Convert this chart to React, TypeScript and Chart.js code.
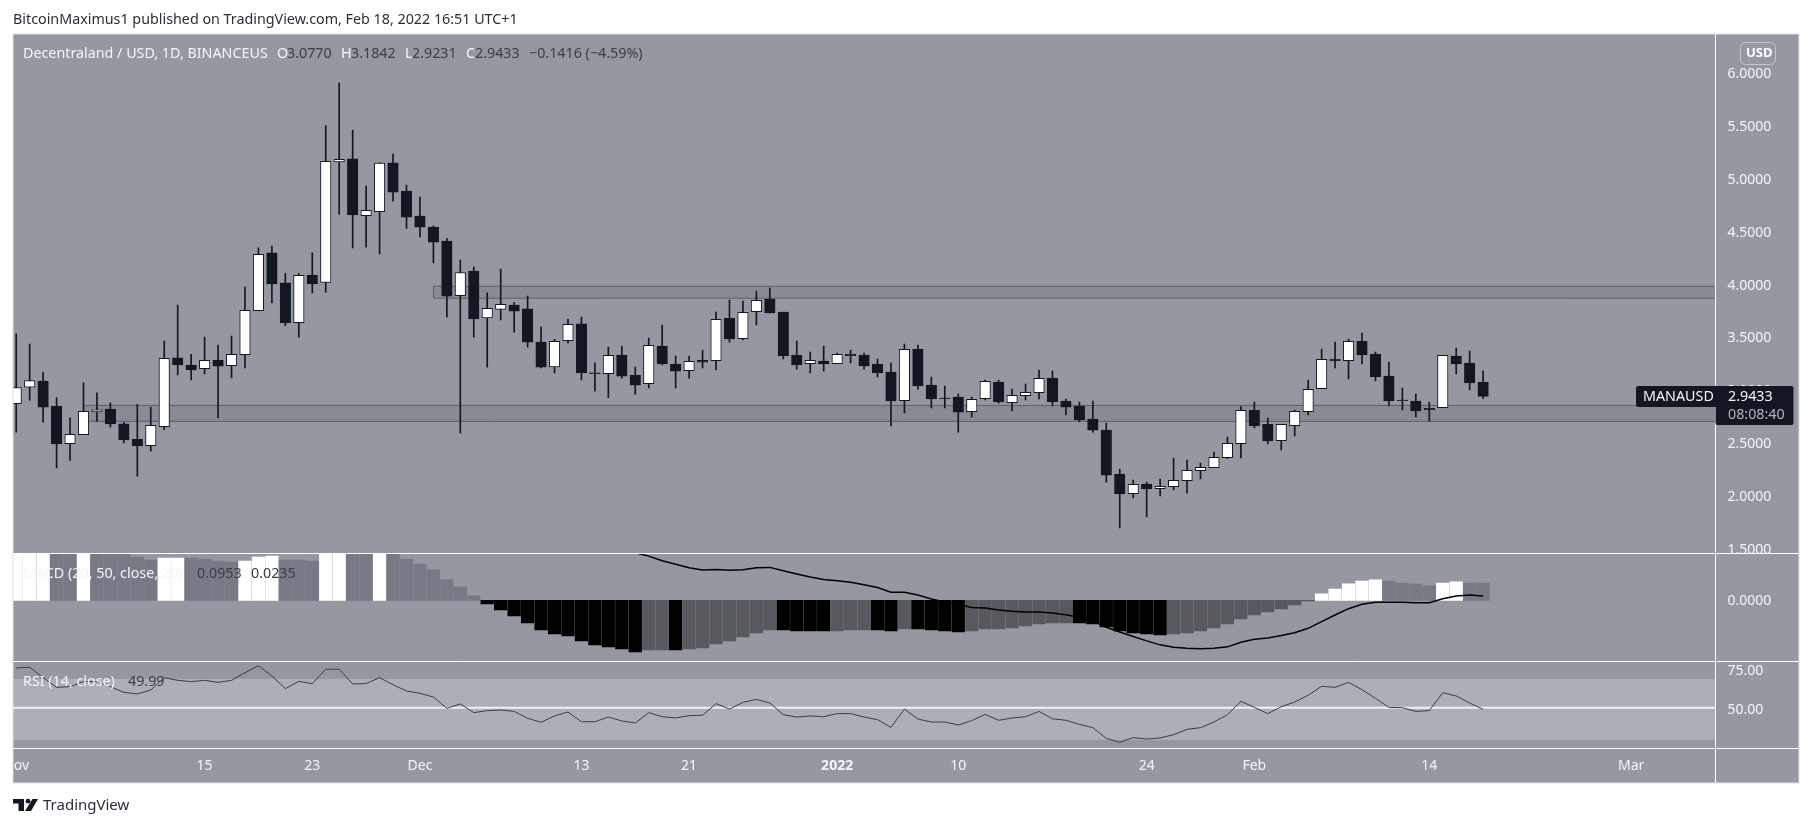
import { useEffect, useRef } from "react";
import { Chart, registerables } from "chart.js";

Chart.register(...registerables);

const W = 1813;
const H = 827;
const FONT = '"Noto Sans", sans-serif';
const PANE_BG = "#9598a1";

// daily candles, 1 Nov 2021 to 18 Feb 2022
const opens = [
  2.876, 3.03, 3.089, 2.852, 2.498, 2.582, 2.798, 2.825, 2.684, 2.539,
  2.478, 2.657, 3.308, 3.24, 3.206, 3.284, 3.233, 3.338, 3.753, 4.299,
  4.016, 3.641, 4.09, 4.019, 5.159, 5.186, 4.65, 4.687, 5.149, 4.883,
  4.647, 4.542, 4.41, 3.894, 4.127, 3.685, 3.766, 3.807, 3.77, 3.456,
  3.223, 3.469, 3.628, 3.166, 3.158, 3.335, 3.143, 3.064, 3.419, 3.25,
  3.187, 3.284, 3.281, 3.681, 3.489, 3.744, 3.863, 3.741, 3.335, 3.253,
  3.278, 3.253, 3.344, 3.335, 3.25, 3.174, 2.903, 3.391, 3.051, 2.928,
  2.938, 2.799, 2.922, 3.08, 2.884, 2.951, 2.979, 3.117, 2.9, 2.853,
  2.73, 2.626, 2.211, 2.025, 2.116, 2.072, 2.091, 2.148, 2.242, 2.271,
  2.365, 2.497, 2.812, 2.68, 2.526, 2.667, 2.8, 3.017, 3.294, 3.281,
  3.464, 3.344, 3.136, 2.91, 2.9, 2.831, 2.837, 3.325, 3.259, 3.077,
];
const closes = [
  3.028, 3.092, 2.842, 2.495, 2.586, 2.802, 2.818, 2.684, 2.532, 2.475,
  2.67, 3.304, 3.24, 3.193, 3.284, 3.23, 3.341, 3.756, 4.286, 4.006,
  3.638, 4.087, 4.006, 5.163, 5.183, 4.657, 4.701, 5.146, 4.873, 4.636,
  4.542, 4.4, 3.891, 4.114, 3.675, 3.776, 3.813, 3.749, 3.456, 3.22,
  3.463, 3.625, 3.166, 3.159, 3.331, 3.136, 3.051, 3.426, 3.25, 3.183,
  3.275, 3.268, 3.671, 3.486, 3.737, 3.851, 3.731, 3.325, 3.24, 3.284,
  3.25, 3.341, 3.328, 3.231, 3.165, 2.9, 3.388, 3.042, 2.919, 2.922,
  2.796, 2.916, 3.086, 2.891, 2.954, 2.982, 3.114, 2.891, 2.843, 2.721,
  2.626, 2.201, 2.022, 2.113, 2.069, 2.094, 2.151, 2.245, 2.274, 2.368,
  2.501, 2.812, 2.664, 2.523, 2.68, 2.803, 3.01, 3.294, 3.281, 3.464,
  3.335, 3.127, 2.9, 2.903, 2.806, 2.818, 3.332, 3.25, 3.07, 2.9433,
];
const highs = [
  3.534, 3.439, 3.172, 2.93, 2.741, 3.071, 2.977, 2.883, 2.7, 2.869,
  2.842, 3.466, 3.807, 3.341, 3.503, 3.429, 3.513, 3.975, 4.346, 4.363,
  4.107, 4.107, 4.299, 5.5, 5.905, 5.459, 4.93, 5.152, 5.233, 4.94,
  4.825, 4.555, 4.437, 4.232, 4.164, 3.921, 4.147, 3.83, 3.891, 3.598,
  3.483, 3.672, 3.692, 3.26, 3.41, 3.419, 3.221, 3.495, 3.618, 3.325,
  3.325, 3.382, 3.741, 3.854, 3.844, 3.939, 3.967, 3.741, 3.467, 3.363,
  3.419, 3.353, 3.382, 3.353, 3.297, 3.259, 3.438, 3.429, 3.127, 3.042,
  2.966, 2.938, 3.098, 3.098, 3.013, 3.061, 3.193, 3.183, 2.919, 2.891,
  2.9, 2.692, 2.258, 2.154, 2.135, 2.164, 2.362, 2.343, 2.315, 2.419,
  2.56, 2.847, 2.891, 2.74, 2.68, 2.815, 3.099, 3.391, 3.457, 3.486,
  3.542, 3.363, 3.269, 3.023, 2.966, 2.891, 3.332, 3.401, 3.372, 3.1842,
];
const lows = [
  2.606, 2.909, 2.7, 2.269, 2.336, 2.582, 2.707, 2.653, 2.505, 2.191,
  2.427, 2.63, 3.146, 3.099, 3.156, 2.741, 3.119, 3.213, 3.753, 3.827,
  3.611, 3.503, 3.921, 3.928, 4.663, 4.346, 4.353, 4.289, 4.788, 4.529,
  4.448, 4.205, 3.692, 2.599, 3.503, 3.22, 3.665, 3.55, 3.409, 3.213,
  3.166, 3.449, 3.099, 2.994, 2.932, 3.117, 2.966, 3.023, 3.24, 3.023,
  3.117, 3.212, 3.193, 3.457, 3.476, 3.618, 3.731, 3.297, 3.202, 3.165,
  3.183, 3.253, 3.259, 3.202, 3.127, 2.664, 2.787, 3.013, 2.834, 2.834,
  2.607, 2.749, 2.91, 2.881, 2.806, 2.91, 2.919, 2.853, 2.768, 2.702,
  2.607, 2.135, 1.701, 1.984, 1.805, 2.003, 2.06, 2.031, 2.164, 2.271,
  2.356, 2.362, 2.645, 2.494, 2.438, 2.57, 2.768, 3.017, 3.212, 3.108,
  3.25, 3.089, 2.853, 2.815, 2.749, 2.711, 2.837, 3.155, 3.004, 2.9231,
];

// MACD histogram; the first bars run off the top of the pane
const macdHist = [
  0.33, 0.31, 0.29, 0.27, 0.265, 0.27, 0.28, 0.275, 0.26, 0.238,
  0.221, 0.232, 0.232, 0.232, 0.227, 0.216, 0.21, 0.216, 0.238, 0.243,
  0.221, 0.221, 0.216, 0.27, 0.28, 0.275, 0.27, 0.265, 0.26, 0.227,
  0.199, 0.167, 0.112, 0.073, 0.024, -0.02, -0.053, -0.086, -0.124, -0.163,
  -0.185, -0.196, -0.223, -0.245, -0.256, -0.267, -0.284, -0.273, -0.273, -0.273,
  -0.267, -0.262, -0.24, -0.223, -0.201, -0.179, -0.163, -0.163, -0.168, -0.168,
  -0.168, -0.168, -0.163, -0.163, -0.163, -0.168, -0.157, -0.157, -0.163, -0.168,
  -0.174, -0.168, -0.157, -0.157, -0.152, -0.141, -0.13, -0.124, -0.124, -0.124,
  -0.13, -0.146, -0.168, -0.179, -0.185, -0.19, -0.185, -0.179, -0.168, -0.152,
  -0.13, -0.102, -0.081, -0.064, -0.048, -0.026, -0.004, 0.035, 0.062, 0.09,
  0.106, 0.112, 0.106, 0.095, 0.09, 0.079, 0.095, 0.101, 0.095, 0.0953,
];
// W rising above zero, G falling above zero, B falling below zero, D rising below zero
const macdHistKind =
  "WWWGGWGGGGGWWGGGGWWWGGGWWGGWGGGGGGG" +
  "BBBBBBBBBBBBDDBDDDDDDDBBBBDDDBBDBBBBDDDDDDDD" +
  "BBBBBBBDDDDDDDDDDDWWWWWGGGGWWGG";
const histColors: Record<string, string> = { W: "#ffffff", G: "#777a84", B: "#000000", D: "#58595f" };

const macdLine = [
  null, null, null, null, null, null, null, null, null, null,
  null, null, null, null, null, null, null, null, null, null,
  null, null, null, null, null, null, null, null, null, null,
  null, null, null, null, null, null, null, null, null, null,
  null, null, null, null, null, null, 0.262, 0.243, 0.218, 0.198,
  0.179, 0.167, 0.17, 0.165, 0.168, 0.179, 0.181, 0.163, 0.145, 0.128,
  0.115, 0.108, 0.099, 0.086, 0.07, 0.044, 0.044, 0.029, 0.007, -0.009,
  -0.022, -0.04, -0.042, -0.053, -0.06, -0.064, -0.064, -0.07, -0.079, -0.093,
  -0.113, -0.148, -0.174, -0.199, -0.223, -0.245, -0.258, -0.264, -0.267, -0.264,
  -0.256, -0.231, -0.214, -0.207, -0.194, -0.178, -0.154, -0.117, -0.081, -0.046,
  -0.022, -0.011, -0.011, -0.011, -0.013, -0.013, 0.009, 0.024, 0.029, 0.0235,
];

const rsi = [
  75.4, 75.9, 69.2, 63.0, 63.5, 66.7, 66.7, 63.5, 59.8, 58.8,
  61.3, 69.2, 67.5, 66.7, 67.5, 66.2, 67.5, 72.4, 76.9, 70.3,
  62.2, 66.9, 65.4, 74.6, 74.6, 65.2, 65.4, 69.2, 64.7, 60.7,
  59.2, 56.8, 49.6, 52.4, 46.8, 48.1, 48.5, 47.6, 43.2, 40.6,
  44.7, 47.2, 41.0, 41.0, 44.0, 41.5, 40.2, 46.8, 44.2, 43.4,
  44.9, 45.1, 52.6, 49.1, 53.4, 55.3, 53.0, 45.5, 44.0, 44.7,
  44.2, 46.2, 46.2, 44.0, 42.3, 37.4, 49.1, 42.7, 40.8, 40.8,
  38.9, 41.7, 45.7, 41.9, 43.4, 44.2, 47.6, 42.9, 41.9, 39.3,
  37.2, 30.3, 27.8, 30.8, 29.9, 30.6, 32.7, 36.1, 37.2, 40.8,
  45.5, 54.1, 50.2, 46.2, 50.6, 53.6, 57.9, 63.7, 63.0, 66.2,
  61.5, 56.0, 50.2, 50.0, 47.6, 48.1, 59.6, 57.5, 53.0, 48.9,
];

const dayTicks = [0, 14, 22, 30, 42, 50, 61, 70, 84, 92, 105, 120];
const dayLabels = ["Nov", "15", "23", "Dec", "13", "21", "2022", "10", "24", "Feb", "14", "Mar"];
const rsiTicks = [75, 50];

// hand drawn price zones: [low, high, first day]
const supportZone = [2.708, 2.859, 5];
const resistanceZone = [3.871, 3.984, 31];

const lastPrice = 2.9433;

const overlay = {
  id: "overlay",
  afterLayout(chart: any) {
    // tick labels sit a little lower than their values in the original
    const nudges: Record<string, number> = { yPrice: 1, yMacd: 0.5, yRsi: 2 };
    for (const id of Object.keys(nudges)) {
      for (const item of chart.scales[id].getLabelItems()) {
        item.options.translation[1] += nudges[id];
      }
    }
  },
  beforeDraw(chart: any) {
    const { ctx } = chart;
    ctx.save();
    ctx.fillStyle = "#ffffff";
    ctx.fillRect(0, 0, W, H);
    ctx.fillStyle = PANE_BG;
    ctx.fillRect(13, 34, 1786, 749);
    ctx.restore();
  },
  beforeDatasetsDraw(chart: any) {
    const { ctx, chartArea, scales } = chart;
    const { x, yPrice, yRsi } = scales;
    ctx.save();

    // rsi band and middle line
    ctx.fillStyle = "#acafb8";
    const bandTop = yRsi.getPixelForValue(68.4);
    ctx.fillRect(chartArea.left, bandTop, chartArea.right - chartArea.left, yRsi.getPixelForValue(29.3) - bandTop);
    ctx.strokeStyle = "#f2f2f4";
    ctx.lineWidth = 2;
    ctx.beginPath();
    ctx.moveTo(chartArea.left, yRsi.getPixelForValue(50));
    ctx.lineTo(chartArea.right, yRsi.getPixelForValue(50));
    ctx.stroke();

    // price zones
    for (const [low, high, first] of [supportZone, resistanceZone]) {
      const left = x.getPixelForValue(first);
      const top = yPrice.getPixelForValue(high);
      const bottom = yPrice.getPixelForValue(low);
      ctx.fillStyle = "#888b94";
      ctx.fillRect(left, top, chartArea.right - left, bottom - top);
      ctx.strokeStyle = "#5d606b";
      ctx.lineWidth = 1;
      ctx.beginPath();
      ctx.moveTo(chartArea.right, top);
      ctx.lineTo(left, top);
      ctx.lineTo(left, bottom);
      ctx.lineTo(chartArea.right, bottom);
      ctx.stroke();
    }
    ctx.restore();
  },
  afterDatasetsDraw(chart: any) {
    const { ctx, chartArea, scales } = chart;
    const { yPrice, yMacd, yRsi } = scales;
    const text = (s: string, px: number, py: number, color: string, font = `14.3px ${FONT}`) => {
      ctx.font = font;
      ctx.fillStyle = color;
      ctx.fillText(s, px, py);
    };
    ctx.save();
    ctx.textBaseline = "middle";
    ctx.textAlign = "left";

    // things that stick out of their panes
    ctx.fillStyle = "#ffffff";
    ctx.fillRect(0, chartArea.bottom, 13, 36);
    ctx.fillStyle = PANE_BG;
    ctx.fillRect(chartArea.right + 1, yPrice.bottom, 80, 8);

    // pane separators and frame
    ctx.strokeStyle = "#ffffff";
    ctx.lineWidth = 1;
    ctx.beginPath();
    for (const y of [yPrice.bottom, yMacd.bottom, yRsi.bottom]) {
      ctx.moveTo(13, Math.round(y) + 0.5);
      ctx.lineTo(1799, Math.round(y) + 0.5);
    }
    ctx.moveTo(Math.round(chartArea.right) + 0.5, 34);
    ctx.lineTo(Math.round(chartArea.right) + 0.5, 783);
    ctx.stroke();
    ctx.strokeStyle = "#dfe2ea";
    ctx.strokeRect(13, 34, 1786, 749);

    // header
    text("BitcoinMaximus1 published on TradingView.com, Feb 18, 2022 16:51 UTC+1", 13, 20, "#2a2e39");

    // main legend
    const light = "#f4f5f8";
    const dim = "#3a3e4a";
    text("Decentraland / USD, 1D, BINANCEUS", 23, 54, light);
    text("O", 277, 54, light);
    text("3.0770", 287, 54, dim);
    text("H", 341, 54, light);
    text("3.1842", 351, 54, dim);
    text("L", 405, 54, light);
    text("2.9231", 412, 54, dim);
    text("C", 466, 54, light);
    text("2.9433", 475, 54, dim);
    text("\u22120.1416 (\u22124.59%)", 529, 54, dim);

    // pane legends
    text("MACD (20, 50, close, 20)", 23, 574, light);
    text("0.0953", 197, 574, dim);
    text("0.0235", 251, 574, dim);
    text("RSI (14, close)", 23, 682, light);
    text("49.99", 128, 682, dim);

    // USD badge
    ctx.strokeStyle = "#c4c7cf";
    ctx.beginPath();
    ctx.roundRect(1740.5, 42.5, 35, 22, 5);
    ctx.stroke();
    text("USD", 1746, 53, "#ffffff", `bold 13px ${FONT}`);

    // last price label
    const py = yPrice.getPixelForValue(lastPrice);
    ctx.fillStyle = "#131722";
    ctx.beginPath();
    ctx.roundRect(1636, py - 10.5, 84, 21, 2);
    ctx.roundRect(1715.5, py - 10.5, 78, 39, 2);
    ctx.fill();
    text("MANAUSD", 1643, py, "#f4f5f8");
    text(lastPrice.toFixed(4), 1728, py, "#f4f5f8");
    text("08:08:40", 1728, py + 18, "#b2b5be");

    // footer mark
    ctx.fillStyle = "#131722";
    ctx.fillRect(13, 799, 11, 4.5);
    ctx.fillRect(18.5, 799, 5.5, 12);
    ctx.beginPath();
    ctx.arc(28, 801.2, 2.4, 0, Math.PI * 2);
    ctx.fill();
    ctx.beginPath();
    ctx.moveTo(32.5, 799);
    ctx.lineTo(38, 799);
    ctx.lineTo(31, 811);
    ctx.lineTo(25, 811);
    ctx.fill();
    text("TradingView", 43, 806, "#2a2e39", `15px ${FONT}`);
    ctx.restore();
  },
};

const App = () => {
  const canvasRef = useRef<HTMLCanvasElement | null>(null);

  useEffect(() => {
    document.body.style.margin = "0";
    if (!canvasRef.current) return;

    const days = opens.map((_, i) => i);
    const tickFont = { family: FONT, size: 14 };
    const hiddenGrid = { display: false, drawTicks: false };
    const hiddenBorder = { display: false };
    const fitY = (scale: any) => {
      scale.width = 84;
    };

    const chart = new Chart(canvasRef.current, {
      type: "bar",
      data: {
        datasets: [
          {
            type: "line",
            label: "RSI",
            data: days.map((i) => ({ x: i, y: rsi[i] })),
            xAxisID: "x",
            yAxisID: "yRsi",
            borderColor: "#3c3e44",
            borderWidth: 1,
            pointRadius: 0,
            tension: 0,
            order: 1,
          },
          {
            type: "line",
            label: "MACD",
            data: days.map((i) => ({ x: i, y: macdLine[i] })),
            xAxisID: "x",
            yAxisID: "yMacd",
            borderColor: "#000000",
            borderWidth: 1.5,
            pointRadius: 0,
            tension: 0,
            order: 1,
          },
          {
            type: "bar",
            label: "Histogram",
            data: days.map((i) => ({ x: i, y: macdHist[i] })),
            xAxisID: "x",
            yAxisID: "yMacd",
            backgroundColor: days.map((i) => histColors[macdHistKind[i]]),
            barThickness: 12.6,
            grouped: false,
            order: 2,
          },
          {
            type: "bar",
            label: "Body",
            data: days.map((i) => ({ x: i, y: [opens[i], closes[i]] })),
            xAxisID: "x",
            yAxisID: "yPrice",
            backgroundColor: days.map((i) => (closes[i] >= opens[i] ? "#ffffff" : "#131722")),
            borderColor: "#131722",
            borderWidth: 1,
            borderSkipped: false,
            barThickness: 10.5,
            grouped: false,
            order: 1,
          },
          {
            type: "bar",
            label: "Wick",
            data: days.map((i) => ({ x: i, y: [lows[i], highs[i]] })),
            xAxisID: "x",
            yAxisID: "yPrice",
            backgroundColor: "#131722",
            barThickness: 1,
            grouped: false,
            order: 2,
          },
        ],
      } as any,
      options: {
        responsive: false,
        animation: false,
        events: [],
        layout: { padding: { left: 13, top: 34, right: 14, bottom: 44 } },
        plugins: {
          legend: { display: false },
          tooltip: { enabled: false },
        },
        scales: {
          x: {
            type: "linear",
            position: "bottom",
            offset: false,
            min: -0.238,
            max: 126.23,
            grid: hiddenGrid,
            border: hiddenBorder,
            afterFit: (scale: any) => {
              scale.height = 35;
              // the Nov label is cut by the frame, it must not push the plot area
              scale.paddingLeft = 0;
              scale.paddingRight = 0;
            },
            afterBuildTicks: (scale: any) => {
              scale.ticks = dayTicks.map((value) => ({ value }));
            },
            ticks: {
              autoSkip: false,
              maxRotation: 0,
              padding: 10,
              color: "#f4f5f8",
              font: (ctx: any) => ({
                ...tickFont,
                weight: ctx.tick && ctx.tick.value === 61 ? "bold" : "normal",
              }),
              callback: (value: any) => dayLabels[dayTicks.indexOf(value)],
            },
          },
          yPrice: {
            position: "right",
            stack: "panes",
            stackWeight: 519.3,
            weight: 1,
            min: 1.4622,
            max: 6.3659,
            grid: hiddenGrid,
            border: hiddenBorder,
            afterFit: fitY,
            ticks: {
              stepSize: 0.5,
              includeBounds: false,
              padding: 12.5,
              color: "#f4f5f8",
              font: tickFont,
              callback: (value: any) => Number(value).toFixed(4),
            },
          },
          yMacd: {
            position: "right",
            stack: "panes",
            stackWeight: 108,
            weight: 2,
            min: -0.3355,
            max: 0.2585,
            grid: hiddenGrid,
            border: hiddenBorder,
            afterFit: fitY,
            afterBuildTicks: (scale: any) => {
              scale.ticks = [{ value: 0 }];
            },
            ticks: {
              padding: 12.5,
              color: "#f4f5f8",
              font: tickFont,
              callback: (value: any) => Number(value).toFixed(4),
            },
          },
          yRsi: {
            position: "right",
            stack: "panes",
            stackWeight: 86.7,
            weight: 3,
            min: 24.16,
            max: 79.7,
            grid: hiddenGrid,
            border: hiddenBorder,
            afterFit: fitY,
            afterBuildTicks: (scale: any) => {
              scale.ticks = rsiTicks.map((value) => ({ value }));
            },
            ticks: {
              padding: 12.5,
              color: "#f4f5f8",
              font: tickFont,
              callback: (value: any) => Number(value).toFixed(2),
            },
          },
        },
      } as any,
      plugins: [overlay],
    });

    return () => {
      chart.destroy();
    };
  }, []);

  return (
    <div style={{ position: "absolute", left: 0, top: 0, width: W, height: H }}>
      <canvas ref={canvasRef} width={W} height={H} style={{ display: "block" }} />
    </div>
  );
};

export default App;
